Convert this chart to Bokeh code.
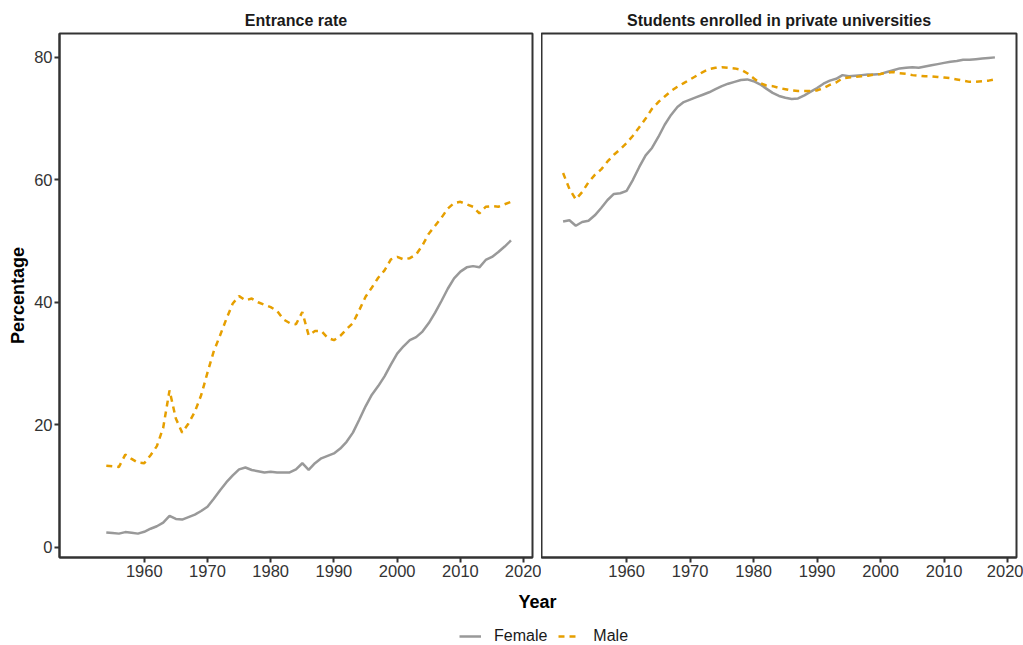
from bokeh.plotting import figure
from bokeh.layouts import column, row
from bokeh.models import Range1d, Label, Legend, LegendItem, FixedTicker
from bokeh.embed import file_html
from bokeh.resources import INLINE

# ---------------- data ----------------
panel_titles = ["Entrance rate", "Students enrolled in private universities"]
series_names = ["Female", "Male"]
x_ticks = [1960, 1970, 1980, 1990, 2000, 2010, 2020]
y_ticks = [0, 20, 40, 60, 80]

entrance_years = list(range(1954, 2019))
entrance_female = [
    2.4, 2.3, 2.2, 2.45, 2.35, 2.2, 2.5, 3.0, 3.4, 4.0,
    5.1, 4.6, 4.5, 4.9, 5.3, 5.9, 6.6, 7.9, 9.3, 10.6,
    11.7, 12.7, 13.0, 12.6, 12.4, 12.2, 12.3, 12.2, 12.2, 12.2,
    12.7, 13.7, 12.6, 13.7, 14.5, 14.9, 15.3, 16.1, 17.2, 18.7,
    20.8, 23.0, 24.9, 26.3, 27.9, 29.8, 31.6, 32.8, 33.8, 34.3,
    35.2, 36.6, 38.3, 40.2, 42.2, 43.9, 45.0, 45.7, 45.9, 45.7,
    46.9, 47.4, 48.2, 49.1, 50.1,
]
entrance_male = [
    13.3, 13.2, 13.1, 15.1, 14.4, 13.8, 13.7, 15.0, 16.5, 19.5,
    25.6, 21.0, 18.7, 20.2, 22.1, 24.8, 28.5, 32.0, 34.6, 37.3,
    39.8, 41.0, 40.3, 40.6, 40.0, 39.6, 39.2, 38.6, 37.2, 36.6,
    36.4, 38.4, 34.6, 35.3, 35.3, 34.2, 33.8, 34.5, 35.6, 36.6,
    38.7, 40.9, 42.4, 44.0, 45.2, 47.0, 47.4, 47.0, 47.2, 47.8,
    49.3, 51.2, 52.5, 53.8, 55.3, 56.2, 56.4, 56.0, 55.6, 54.5,
    55.6, 55.7, 55.6, 56.0, 56.4,
]

private_years = list(range(1950, 2019))
private_female = [
    53.2, 53.4, 52.5, 53.1, 53.3, 54.2, 55.4, 56.7, 57.7, 57.8,
    58.2, 60.0, 62.1, 64.0, 65.2, 67.0, 69.0, 70.6, 71.9, 72.7,
    73.1, 73.5, 73.9, 74.3, 74.8, 75.3, 75.7, 76.0, 76.3, 76.4,
    76.1, 75.6, 74.9, 74.2, 73.7, 73.4, 73.2, 73.3, 73.8, 74.4,
    75.0, 75.7, 76.2, 76.5, 77.1, 76.9, 77.0, 77.1, 77.2, 77.2,
    77.3, 77.6, 77.9, 78.2, 78.3, 78.4, 78.3, 78.5, 78.7, 78.9,
    79.1, 79.3, 79.4, 79.6, 79.6, 79.7, 79.8, 79.9, 80.0,
]
private_male = [
    61.1, 58.5, 56.8, 58.0, 59.6, 60.8, 61.7, 63.0, 64.1, 65.0,
    66.0, 67.2, 68.6, 70.0, 71.6, 72.7, 73.6, 74.5, 75.2, 75.8,
    76.4, 77.0, 77.6, 78.1, 78.3, 78.4, 78.3, 78.2, 78.0, 77.4,
    76.6, 75.8, 75.4, 75.3, 75.0, 74.8, 74.6, 74.5, 74.5, 74.5,
    74.6, 75.0, 75.5, 75.9, 76.6, 76.7, 76.8, 76.9, 77.0, 77.2,
    77.3, 77.5, 77.6, 77.4, 77.3, 77.1, 77.0, 76.9, 76.9, 76.8,
    76.7, 76.6, 76.4, 76.2, 76.0, 76.0, 76.1, 76.2, 76.4,
]

# ---------------- style ----------------
FONT = "Liberation Sans"
FEMALE_COLOR = "#999999"
MALE_COLOR = "#E69F00"
FRAME_COLOR = "#333333"
LW = 2.5
DASH = "6 5"


def make_panel(title, show_y, min_left, min_right, frame_w):
    p = figure(
        frame_width=frame_w, frame_height=524,
        x_range=Range1d(1946.6, 2021.4), y_range=Range1d(-1.7, 83.9),
        output_backend="svg", toolbar_location=None,
        min_border_left=min_left, min_border_right=min_right,
        min_border_top=33, min_border_bottom=30,
    )
    p.title.text = title
    p.title.align = "center"
    p.title.text_font = FONT
    p.title.text_font_size = "16px"
    p.title.text_font_style = "bold"
    p.title.text_color = "#1a1a1a"
    p.title.standoff = 9
    p.xgrid.visible = False
    p.ygrid.visible = False
    p.outline_line_color = FRAME_COLOR
    p.outline_line_width = 2
    p.outline_line_alpha = 1
    p.background_fill_color = "white"
    p.border_fill_color = "white"

    for ax in (p.xaxis[0], p.yaxis[0]):
        ax.axis_line_color = FRAME_COLOR
        ax.axis_line_width = 2
        ax.major_tick_line_color = FRAME_COLOR
        ax.major_tick_line_width = 2
        ax.major_tick_out = 5
        ax.major_tick_in = 0
        ax.minor_tick_line_color = None
        ax.major_label_text_font = FONT
        ax.major_label_text_font_size = "16.5px"
        ax.major_label_text_color = "#333333"
        ax.major_label_standoff = 2
    p.xaxis.ticker = FixedTicker(ticks=x_ticks)
    p.yaxis.ticker = FixedTicker(ticks=y_ticks)
    if show_y:
        p.yaxis.axis_label = "Percentage"
        p.yaxis.axis_label_text_font = FONT
        p.yaxis.axis_label_text_font_size = "18px"
        p.yaxis.axis_label_text_font_style = "bold"
        p.yaxis.axis_label_text_color = "#000000"
        p.yaxis.axis_label_standoff = 3
    else:
        p.yaxis.visible = False
    return p


p1 = make_panel(panel_titles[0], True, 59, 9, 473)
p1.line(entrance_years, entrance_female, line_color=FEMALE_COLOR, line_width=LW)
p1.line(entrance_years, entrance_male, line_color=MALE_COLOR, line_width=LW, line_dash=DASH)

p2 = make_panel(panel_titles[1], False, 0, 7, 475)
p2.line(private_years, private_female, line_color=FEMALE_COLOR, line_width=LW)
p2.line(private_years, private_male, line_color=MALE_COLOR, line_width=LW, line_dash=DASH)

# bottom strip: shared x-axis title and legend
p3 = figure(
    width=1023, height=58, x_range=Range1d(0, 1023), y_range=Range1d(0, 58),
    x_axis_type=None, y_axis_type=None,
    output_backend="svg", toolbar_location=None, min_border=0,
)
p3.xgrid.visible = False
p3.ygrid.visible = False
p3.outline_line_color = None
p3.add_layout(Label(
    x=537, y=44, text="Year", text_align="center", text_baseline="middle",
    text_font=FONT, text_font_size="18px", text_font_style="bold", text_color="#000000",
))
nan = float("nan")
rf = p3.line([nan], [nan], line_color=FEMALE_COLOR, line_width=LW)
rm = p3.line([nan], [nan], line_color=MALE_COLOR, line_width=LW, line_dash=DASH)
legend = Legend(
    items=[LegendItem(label=series_names[0], renderers=[rf]),
           LegendItem(label=series_names[1], renderers=[rm])],
    orientation="horizontal", location=(459, 0),
    glyph_width=22, glyph_height=16, label_height=16, label_standoff=13, spacing=11,
    padding=0, margin=0, border_line_color=None, background_fill_alpha=0,
    label_text_font=FONT, label_text_font_size="16px", label_text_color="#1a1a1a",
)
p3.add_layout(legend)

layout = column(row(p1, p2), p3)
open("out.html", "w").write(file_html(layout, INLINE))
